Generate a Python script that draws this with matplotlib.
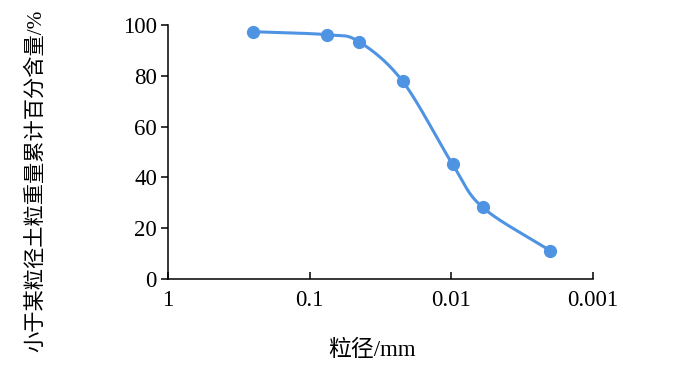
import numpy as np
import matplotlib.pyplot as plt

# grain size (mm) and cumulative passing percentage
size_mm = [0.25, 0.075, 0.045, 0.022, 0.0098, 0.006, 0.002]
passing = [97.4, 96.2, 93.5, 77.8, 45.2, 28.2, 11.1]
x_ticks = [1, 0.1, 0.01, 0.001]
x_ticklabels = ['1', '0.1', '0.01', '0.001']
y_ticks = [0, 20, 40, 60, 80, 100]

serif = ['Liberation Serif', 'Noto Sans CJK SC']
plt.rcParams['font.family'] = serif


def catmull_rom(px, py, n=30):
    """Smooth curve through points (in display-like coordinates)."""
    P = np.column_stack([np.asarray(px, float), np.asarray(py, float)])
    P = np.vstack([2 * P[0] - P[1], P, 2 * P[-1] - P[-2]])
    out = []
    t = np.linspace(0, 1, n)[:, None]
    for i in range(1, len(P) - 2):
        p0, p1, p2, p3 = P[i - 1], P[i], P[i + 1], P[i + 2]
        seg = 0.5 * ((2 * p1) + (-p0 + p2) * t
                     + (2 * p0 - 5 * p1 + 4 * p2 - p3) * t ** 2
                     + (-p0 + 3 * p1 - 3 * p2 + p3) * t ** 3)
        out.append(seg)
    out = np.vstack(out)
    return out[:, 0], out[:, 1]


fig = plt.figure(figsize=(7, 3.69), dpi=100)
ax = fig.add_axes([0.24, 0.244, 0.607, 0.688])

color = '#4f94e3'
# smooth in (log x, scaled y) space, roughly matching screen aspect
lx = np.log10(size_mm)
sx, sy = catmull_rom(lx * 141.7, np.array(passing) * 2.54)
ax.plot(10 ** (sx / 141.7), sy / 2.54, color=color, lw=2.2, zorder=2)
ax.plot(size_mm, passing, 'o', color=color, ms=8.5, zorder=3)

ax.set_xscale('log')
ax.set_xlim(1, 0.001)
ax.set_ylim(0, 100)
ax.set_xticks(x_ticks)
ax.set_xticklabels(x_ticklabels)
ax.minorticks_off()
ax.set_yticks(y_ticks)

for s in ('top', 'right'):
    ax.spines[s].set_visible(False)
for s in ('left', 'bottom'):
    ax.spines[s].set_linewidth(1.1)

ax.tick_params(axis='x', direction='in', length=5, width=1.1, labelsize=16.5, pad=8)
ax.tick_params(axis='y', direction='out', length=5, width=1.1, labelsize=16.5, pad=3)

fig.text(372 / 700, 1 - 350 / 369, '粒径/mm', ha='center', va='center',
         fontsize=16.5, family=serif)
fig.text(36 / 700, 1 - 181 / 369, '小于某粒径土粒重量累计百分含量/%', ha='center',
         va='center', rotation=90, fontsize=15.3, family=serif)

fig.savefig('out.png', dpi=100)
